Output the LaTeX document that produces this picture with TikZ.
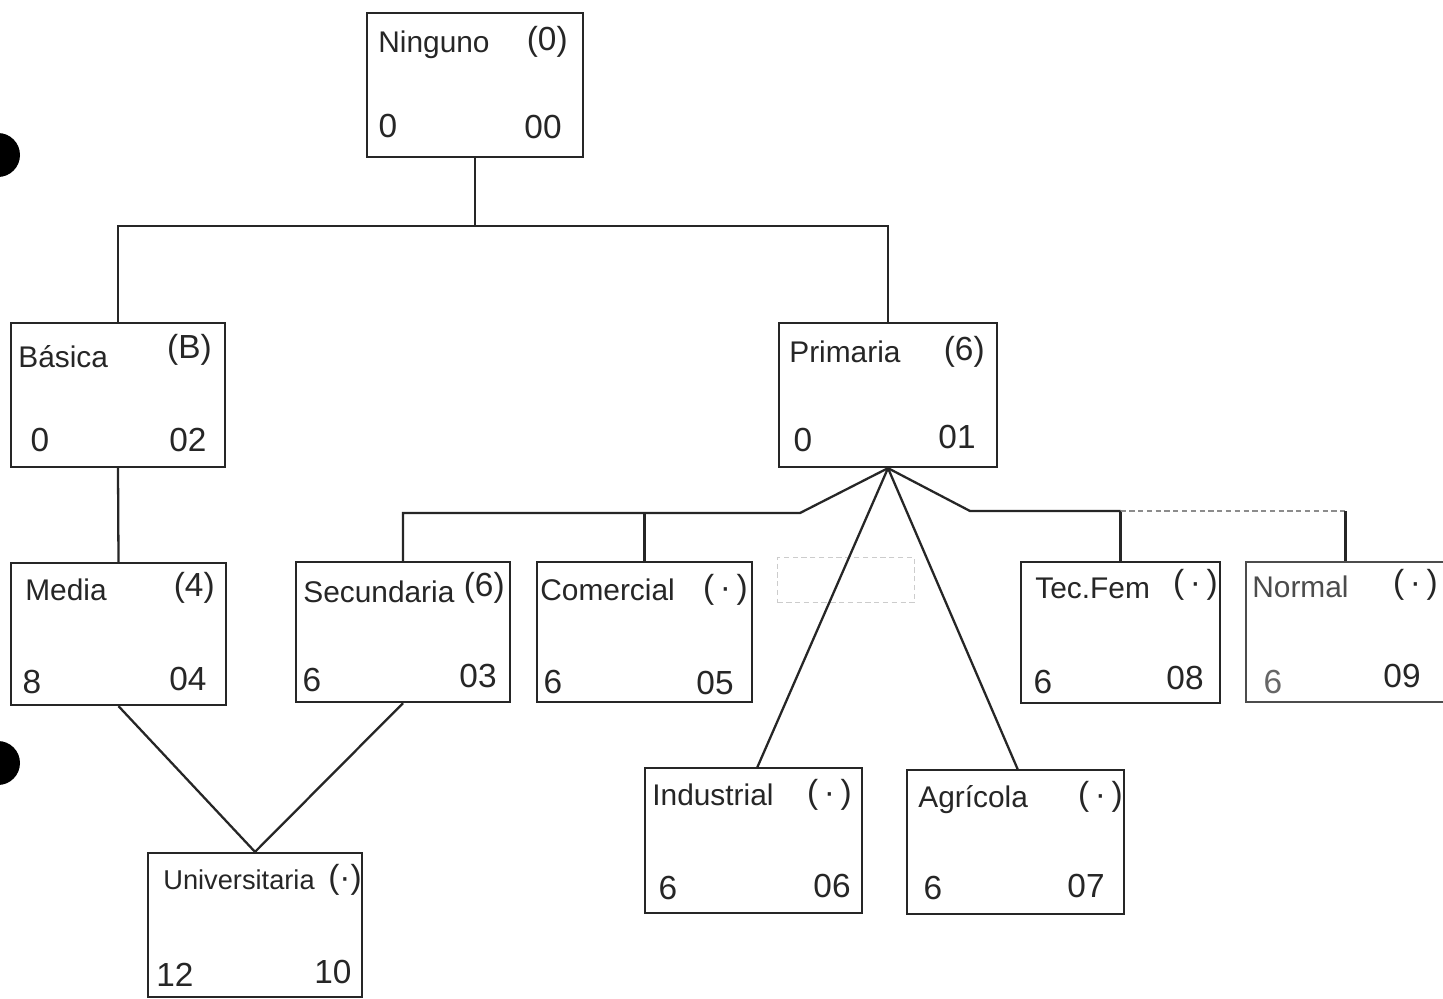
\documentclass[tikz,border=0pt]{standalone}
\usepackage{fontspec}
\setmainfont{Liberation Sans}
\begin{document}
\begin{tikzpicture}[x=0.02cm,y=-0.02cm,
  box/.style={draw=black!85, line width=1.3pt, rectangle, inner sep=0pt},
  lbl/.style={inner sep=0pt, text=black!85, font=\fontsize{17}{20}\selectfont},
  num/.style={inner sep=0pt, text=black!85, font=\fontsize{19}{22}\selectfont},
  conn/.style={draw=black!85, line width=1.3pt},
  faint/.style={draw=black!45, line width=1pt, densely dashed}]
\useasboundingbox (0,0) rectangle (1443,998);
\fill[white] (0,0) rectangle (1443,998);
% punched holes
\fill[black] (-2,155) circle (22);
\fill[black] (-2,763) circle (22);
% boxes
\node[box, minimum width=4.32cm, minimum height=2.88cm] (n0) at (475,85) {};
\node[box, minimum width=4.28cm, minimum height=2.88cm] (bas) at (118,395) {};
\node[box, minimum width=4.36cm, minimum height=2.88cm] (pri) at (888,395) {};
\node[box, minimum width=4.30cm, minimum height=2.84cm] (med) at (118.5,634) {};
\node[box, minimum width=4.28cm, minimum height=2.80cm] (sec) at (403,632) {};
\node[box, minimum width=4.30cm, minimum height=2.80cm] (com) at (644.5,632) {};
\node[box, minimum width=3.98cm, minimum height=2.82cm] (tec) at (1120.5,632.5) {};
\node[box, draw=black!70, minimum width=3.98cm, minimum height=2.80cm] (nor) at (1345.5,632) {};
\node[box, minimum width=4.34cm, minimum height=2.90cm] (ind) at (753.5,840.5) {};
\node[box, minimum width=4.34cm, minimum height=2.88cm] (agr) at (1015.5,842) {};
\node[box, minimum width=4.28cm, minimum height=2.88cm] (uni) at (255,925) {};
\node[draw=black!20, line width=0.8pt, densely dashed, minimum width=2.74cm, minimum height=0.9cm, inner sep=0pt] (fad) at (846,580) {};
% texts
\node[lbl, anchor=west] (t0a) at (378,45) {Ninguno};
\node[num, anchor=east] (t0b) at (568,42) {(0)};
\node[num] (t0c) at (388,126) {0};
\node[num] (t0d) at (543,127) {00};
\node[lbl, anchor=west] (t1a) at (18,357) {Básica};
\node[num, anchor=east] (t1b) at (212,350) {(B)};
\node[num] (t1c) at (40,440) {0};
\node[num] (t1d) at (188,440) {02};
\node[lbl, anchor=west] (t2a) at (789,352) {Primaria};
\node[num, anchor=east] (t2b) at (985,352) {(6)};
\node[num] (t2c) at (803,440) {0};
\node[num] (t2d) at (957,437) {01};
\node[lbl, anchor=west] (t3a) at (25,590) {Media};
\node[num, anchor=east] (t3b) at (215,588) {(4)};
\node[num] (t3c) at (32,682) {8};
\node[num] (t3d) at (188,679) {04};
\node[lbl, anchor=west] (t4a) at (303,592) {Secundaria};
\node[num, anchor=east] (t4b) at (505,588) {(6)};
\node[num] (t4c) at (312,680) {6};
\node[num] (t4d) at (478,676) {03};
\node[lbl, anchor=west] (t5a) at (540,590) {Comercial};
\node[num, anchor=east] (t5b) at (748,590) {(\,·\,)};
\node[num] (t5c) at (553,682) {6};
\node[num] (t5d) at (715,683) {05};
\node[lbl, anchor=west] (t6a) at (1035,588) {Tec.Fem};
\node[num, anchor=east] (t6b) at (1218,585) {(\,·\,)};
\node[num] (t6c) at (1043,682) {6};
\node[num] (t6d) at (1185,678) {08};
\node[lbl, anchor=west, text=black!70] (t7a) at (1252,587) {Normal};
\node[num, anchor=east] (t7b) at (1438,585) {(\,·\,)};
\node[num, text=black!60] (t7c) at (1273,682) {6};
\node[num] (t7d) at (1402,676) {09};
\node[lbl, anchor=west] (t8a) at (652,795) {Industrial};
\node[num, anchor=east] (t8b) at (852,795) {(\,·\,)};
\node[num] (t8c) at (668,888) {6};
\node[num] (t8d) at (832,886) {06};
\node[lbl, anchor=west] (t9a) at (918,800) {Agrícola};
\node[num, anchor=east] (t9b) at (1123,797) {(\,·\,)};
\node[num] (t9c) at (933,888) {6};
\node[num] (t9d) at (1086,886) {07};
\node[lbl, anchor=west, font=\fontsize{15.5}{18}\selectfont] (t10a) at (163,880) {Universitaria};
\node[num, anchor=east] (t10b) at (362,880) {(·)};
\node[num] (t10c) at (175,975) {12};
\node[num] (t10d) at (333,972) {10};
% connectors
\coordinate (bar) at (0,226);
\draw[conn] (n0.south) -- (n0.south |- bar);
\draw[conn] (bas.north) -- (bas.north |- bar) -- (pri.north |- bar) -- (pri.north);
\draw[conn] (bas.south) -- (med.north);
\coordinate (bar2) at (0,513);
\coordinate (kl) at (800,513);
\draw[conn] (pri.south) -- (kl) -- (sec.north |- bar2) -- (sec.north);
\draw[conn] (com.north) -- (com.north |- bar2);
\coordinate (bar3) at (0,511);
\coordinate (kr) at (970,511);
\draw[conn] (pri.south) -- (kr) -- (tec.north |- bar3);
\draw[conn] (tec.north) -- (tec.north |- bar3);
\draw[faint] (tec.north |- bar3) -- (nor.north |- bar3);
\draw[conn] (nor.north) -- (nor.north |- bar3);
\coordinate (ie) at (757,768);
\coordinate (ae) at (1018,770);
\draw[conn] (pri.south) -- (ie);
\draw[conn] (pri.south) -- (ae);
\draw[conn] (med.south) -- (uni.north);
\draw[conn] (sec.south) -- (uni.north);
\end{tikzpicture}
\end{document}
